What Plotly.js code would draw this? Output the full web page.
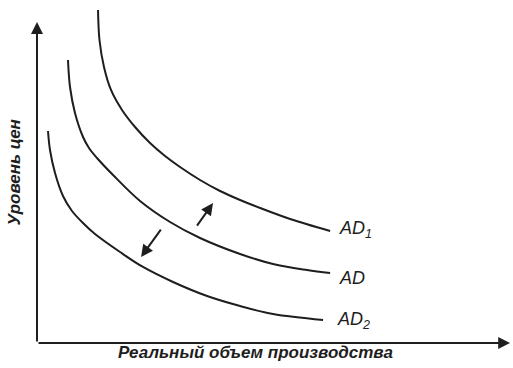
<!DOCTYPE html>
<html>
<head>
<meta charset="utf-8">
<script src="https://cdn.plot.ly/plotly-3.0.1.min.js"></script>
<style>
  body { margin: 0; background: #fff; }
  #plot { width: 513px; height: 368px; }
</style>
</head>
<body>
<div id="plot"></div>
<script>
// curves (output 0..100, price level 0..100)
var ad1X = [12.90, 13.21, 14.16, 15.64, 17.97, 20.72, 23.89, 27.06, 30.23, 34.46, 38.69, 42.92, 47.15, 53.49, 61.95];
var ad1Y = [103.74, 94.39, 85.98, 78.82, 72.59, 67.29, 62.31, 58.26, 54.83, 50.78, 47.35, 44.55, 42.06, 38.63, 34.89];

var adX = [6.55, 6.98, 8.03, 9.73, 10.99, 12.68, 16.07, 21.78, 28.12, 34.46, 42.92, 49.89, 57.08, 61.95];
var adY = [88.16, 79.75, 71.65, 64.17, 60.75, 57.63, 52.34, 44.24, 37.69, 32.71, 27.73, 24.61, 22.74, 21.81];

var ad2X = [2.33, 2.75, 3.81, 5.50, 7.40, 9.94, 12.26, 17.55, 22.41, 28.75, 35.94, 42.92, 49.89, 60.46];
var ad2Y = [66.04, 60.12, 52.96, 45.79, 41.12, 37.07, 33.96, 28.35, 23.68, 19.00, 14.64, 11.53, 9.03, 7.17];

var curveNames = ['AD<sub>1</sub>', 'AD', 'AD<sub>2</sub>'];
var labelX = [63.4, 63.4, 63.0];
var labelY = [35.5, 20.2, 7.0];

// shift arrows: [tailX, tailY, headX, headY]
var shiftUp = [33.6, 36.1, 37.2, 43.6];
var shiftDown = [26.4, 35.8, 22.0, 26.8];
// axes: from origin to arrow tip
var yAxisArrow = [0, 0, 0, 100];
var xAxisArrow = [0, 0, 100, 0];

var ink = '#1e1e1e';
var lineStyle = { color: ink, width: 2, shape: 'spline', smoothing: 1 };

var data = [
  { x: ad1X, y: ad1Y, mode: 'lines', line: lineStyle, hoverinfo: 'skip' },
  { x: adX, y: adY, mode: 'lines', line: lineStyle, hoverinfo: 'skip' },
  { x: ad2X, y: ad2Y, mode: 'lines', line: lineStyle, hoverinfo: 'skip' }
];

function arrow(a) {
  return {
    x: a[2], y: a[3], ax: a[0], ay: a[1],
    xref: 'x', yref: 'y', axref: 'x', ayref: 'y',
    text: '', showarrow: true, arrowhead: 2, arrowsize: 1.2, arrowwidth: 2, arrowcolor: ink
  };
}

var annotations = [];
for (var i = 0; i < curveNames.length; i++) {
  annotations.push({
    x: labelX[i], y: labelY[i], xref: 'x', yref: 'y',
    text: curveNames[i], showarrow: false, xanchor: 'left', yanchor: 'middle',
    font: { family: 'Liberation Sans, Arial, sans-serif', size: 18, color: ink, style: 'italic' }
  });
}
annotations.push(arrow(shiftUp));
annotations.push(arrow(shiftDown));
annotations.push(arrow(yAxisArrow));
annotations.push(arrow(xAxisArrow));

annotations.push({
  x: -0.042, y: 0.5, xref: 'paper', yref: 'paper', textangle: -90,
  text: 'Уровень цен', showarrow: false, xanchor: 'center', yanchor: 'middle',
  font: { family: 'Liberation Sans, Arial, sans-serif', size: 17, color: ink, weight: 'bold', style: 'italic' }
});
annotations.push({
  x: 0.462, y: -0.023, xref: 'paper', yref: 'paper',
  text: 'Реальный объем производства', showarrow: false, xanchor: 'center', yanchor: 'middle',
  font: { family: 'Liberation Sans, Arial, sans-serif', size: 17, color: ink, weight: 'bold', style: 'italic' }
});

var layout = {
  width: 513, height: 368,
  margin: { l: 35, r: 0, t: 0, b: 23 },
  paper_bgcolor: '#ffffff', plot_bgcolor: '#ffffff',
  showlegend: false,
  xaxis: { range: [-0.42, 100.6], showgrid: false, zeroline: false, showticklabels: false, showline: false, ticks: '' },
  yaxis: { range: [-0.62, 106.85], showgrid: false, zeroline: false, showticklabels: false, showline: false, ticks: '' },
  annotations: annotations
};

Plotly.newPlot('plot', data, layout, { staticPlot: true });
</script>
</body>
</html>
